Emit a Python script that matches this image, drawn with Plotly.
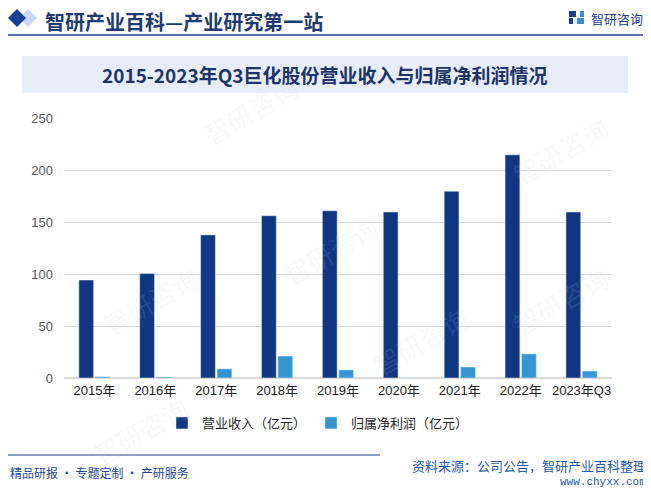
import plotly.graph_objects as go

# данные
years = ["2015年", "2016年", "2017年", "2018年", "2019年", "2020年", "2021年", "2022年", "2023年Q3"]
revenue = [94.2, 100.4, 137.6, 156.0, 160.8, 159.6, 179.6, 214.6, 159.6]
net_profit = [1.2, 1.0, 8.8, 21.1, 7.8, 0.2, 10.6, 23.2, 6.7]
y_ticks = [0, 50, 100, 150, 200, 250]

# страница рисуется с отступом body 8px, поэтому фигура чуть меньше окна
OFF = 8
W, H = 651 - OFF, 490 - OFF
L, R, T, B = 56, 39, 110, 112
PW, PH = W - L - R, H - T - B

NAVY = "#0f3782"
LIGHT = "#3396d3"
CJK = "Noto Sans CJK SC"


def px(x):
    # x в пикселях исходной картинки -> paper
    return (x - OFF - L) / PW


def py(y):
    return (H - B - (y - OFF)) / PH


fig = go.Figure()
fig.add_trace(go.Bar(x=years, y=revenue, name="营业收入（亿元）", marker_color=NAVY))
fig.add_trace(go.Bar(x=years, y=net_profit, name="归属净利润（亿元）", marker_color=LIGHT))

shapes = [
    # полоса заголовка
    dict(type="rect", xref="paper", yref="paper", x0=px(22), x1=px(628), y0=py(93), y1=py(56),
         fillcolor="#e8eef9", line_width=0, layer="below"),
    # линия под шапкой
    dict(type="line", xref="paper", yref="paper", x0=px(8), x1=px(648), y0=py(35), y1=py(35),
         line=dict(color="#1c3f8c", width=1.5)),
    # линия в подвале
    dict(type="line", xref="paper", yref="paper", x0=px(8), x1=px(380), y0=py(455), y1=py(455),
         line=dict(color="#1c3f8c", width=1.2)),
    # ромбы в шапке
    dict(type="path", xref="paper", yref="paper",
         path=f"M {px(19)},{py(18)} L {px(28)},{py(9)} L {px(37)},{py(18)} L {px(28)},{py(27)} Z",
         fillcolor="#c9d6ef", line_width=0),
    dict(type="path", xref="paper", yref="paper",
         path=f"M {px(8)},{py(18)} L {px(17)},{py(9)} L {px(26)},{py(18)} L {px(17)},{py(27)} Z",
         fillcolor="#173f94", line_width=0),
    # значок логотипа
    dict(type="rect", xref="paper", yref="paper", x0=px(569), x1=px(576), y0=py(17), y1=py(11),
         fillcolor="#1c3f8c", line_width=0),
    dict(type="rect", xref="paper", yref="paper", x0=px(569), x1=px(573), y0=py(24), y1=py(18),
         fillcolor="#1c3f8c", line_width=0),
    dict(type="rect", xref="paper", yref="paper", x0=px(577), x1=px(584), y0=py(24), y1=py(18),
         fillcolor="#3a8fd0", line_width=0),
    dict(type="rect", xref="paper", yref="paper", x0=px(580), x1=px(584), y0=py(17), y1=py(11),
         fillcolor="#3a8fd0", line_width=0),
]

annotations = [
    dict(text="<b>智研产业百科—产业研究第一站</b>", x=px(44), y=py(21.5), xanchor="left", yanchor="middle",
         font=dict(family=CJK, size=20, color="#1e3a70"), borderpad=0),
    dict(text="智研咨询", x=px(589), y=py(18), xanchor="left", yanchor="middle",
         font=dict(family=CJK, size=13, color="#1c3f8c")),
    dict(text="<b>2015-2023年Q3巨化股份营业收入与归属净利润情况</b>", x=px(325), y=py(75),
         xanchor="center", yanchor="middle", font=dict(family=CJK, size=19, color="#1e3466")),
    dict(text="资料来源：公司公告，智研产业百科整理", x=px(648), y=py(465), xanchor="right",
         yanchor="middle", font=dict(family=CJK, size=13, color="#1f5ba8")),
    dict(text="www.chyxx.com", x=px(648), y=py(482), xanchor="right", yanchor="middle",
         font=dict(family="Liberation Mono", size=11, color="#1f5ba8")),
    dict(text="精品研报 · 专题定制 · 产研服务", x=px(8), y=py(472), xanchor="left", yanchor="middle",
         font=dict(family=CJK, size=12, color="#1f4a96")),
]
# бледные водяные знаки
for wx, wy in [(250, 110), (330, 250), (420, 340), (560, 150), (150, 300), (140, 430), (560, 300)]:
    annotations.append(dict(text="智研咨询", x=px(wx), y=py(wy), xanchor="center", yanchor="middle",
                            textangle=-30, font=dict(family=CJK, size=26, color="rgba(200,210,225,0.15)")))
for a in annotations:
    a.setdefault("xref", "paper")
    a.setdefault("yref", "paper")
    a.setdefault("showarrow", False)

fig.update_layout(
    width=W, height=H,
    margin=dict(l=L, r=R, t=T, b=B),
    paper_bgcolor="white", plot_bgcolor="white",
    barmode="group", bargap=0.46, bargroupgap=0.1,
    font=dict(family="Liberation Sans, Arial, " + CJK, size=13, color="#404040"),
    showlegend=True,
    legend=dict(orientation="h", x=px(318), xanchor="center", y=py(423), yanchor="middle",
                font=dict(family=CJK, size=13, color="#262626"), itemwidth=30,
                traceorder="normal"),
    xaxis=dict(showgrid=False, showline=True, linecolor="#d9d9d9", linewidth=1, ticks="",
               tickfont=dict(size=13, color="#1a1a1a")),
    yaxis=dict(range=[0, 250], tickvals=y_ticks, showgrid=True, gridcolor="#d9d9d9", gridwidth=1,
               zeroline=True, zerolinecolor="#d9d9d9", showline=False, ticks="",
               tickfont=dict(size=13, color="#595959"), ticklabelstandoff=10),
    shapes=shapes,
    annotations=annotations,
)

fig.write_html("out.html")
